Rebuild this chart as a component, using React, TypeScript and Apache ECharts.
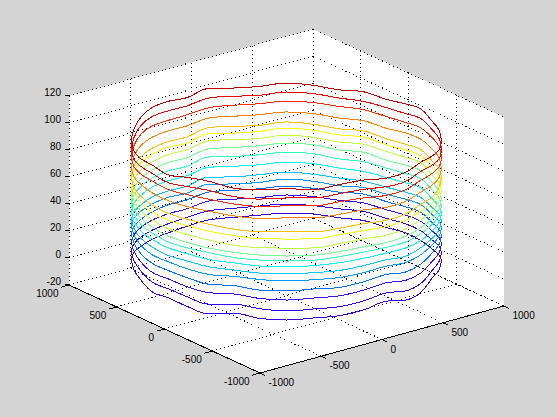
import React, { useEffect, useRef } from "react";
import * as echarts from "echarts";

const xTicks = [-1000, -500, 0, 500, 1000];
const yTicks = [-1000, -500, 0, 500, 1000];
const zTicks = [-20, 0, 20, 40, 60, 80, 100, 120];

// contour heights read on the far and on the near side of the cylinder
const backLevels = [0.1, 6.8, 13.5, 20.1, 25.3, 30.5, 37.9, 45.3, 52, 57.9, 63.1, 67.6, 75, 83.1, 89.8, 96.4];
const frontLevels = [2.8, 9.5, 17.6, 24.3, 31.7, 36.9, 42.1, 46.5, 50.2, 56.1, 62.8, 68, 78.4, 87.3, 93.2, 100];
const ringColors = ["#3c00d8", "#3c00f0", "#3010ff", "#0070ff", "#0098ff", "#00c8ff", "#00f8f8", "#30ffc0", "#70ff90", "#c0ff40", "#ffff00", "#ffc000", "#ff8000", "#ff2800", "#f00000", "#c00000"];

// z deviation of each contour from its level, every 10 degrees around the cylinder
const ring00 = [5, 2, 0, 0, 0, -1, 0, -1, 0, 0, -1, -1, 0, -1, -1, 0, 1, 3, 5, 4, 3, .5, 2, .5, -1, 2.5, .5, 0, 1, 1, 2.5, 5, 1, 1, 5.5, 5];
const ring01 = [4.5, 2, 0, .5, 0, -1, 0, -1, -.5, 0, -1, -1, 0, -1, -1, 0, 1, 2.5, 4.5, 4, 3, 1, 2, 1, -.5, 2.5, 1, 0, 1, 1, 2.5, 4.5, 1, 1, 4.5, 4.5];
const ring02 = [3.5, 1, -.5, .5, -.5, -1.5, -.5, -1.5, -.5, 0, -1.5, -1, .5, -1.5, -.5, .5, 1, 2, 3.5, 3.5, 2, .5, 1.5, .5, 0, 2, .5, 0, 1, 1, 2.5, 4, 1, 1, 3.5, 3.5];
const ring03 = [3, .5, -1, .5, -1, -2, -.5, -2, -1, 0, -1.5, -1, .5, -1.5, -.5, 0, .5, 1.5, 3, 3, 1.5, .5, 1, .5, -.5, 1.5, 0, 0, 1, .5, 2, 3.5, .5, 1, 3, 3];
const ring04 = [2.5, .5, -1, .5, -1, -2, -1, -2.5, -1, 0, -2, -1.5, 1, -2, -.5, 0, .5, 1.5, 2.5, 2.5, 1, 0, .5, 0, -.5, 1, .5, 0, .5, .5, 1.5, 2.5, .5, 1, 2.5, 2.5];
const ring05 = [2, .5, -1, .5, -1, -2, -1.5, -2, -1, 0, -1.5, -1.5, 1, -2, -1, 0, 0, 1, 2, 2, 1, .5, 0, .5, 0, .5, 0, 0, .5, .5, 1.5, 2, 0, 1, 2, 2];
const ring06 = [1.5, 0, -1, 1, -1, -2, -1.5, -2, -.5, 0, -1.5, -1, 1, -1.5, -.5, .5, .5, 1, 1.5, 1.5, .5, .5, 0, .5, 0, .5, 0, 0, .5, 1, 1.5, 1.5, .5, .5, 1.5, 1.5];
const ring07 = [1, 0, -1, 1, -1, -2, -1.5, -2.5, -.5, 0, -1.5, -1, 1.5, -1.5, 0, .5, .5, 1, 1, 1, 0, 0, -.5, 0, .5, 0, 0, 0, 0, 1, 1.5, 1, 0, .5, 1, 1];
const ring08 = [1, 0, -1, 1, -1, -2.5, -1, -2.5, -.5, 0, -1.5, -1, 1, -1.5, 0, .5, .5, 1, 1, .5, 0, 0, -.5, 0, 0, 0, 0, 0, 0, 1, 1.5, .5, 0, .5, .5, 1];
const ring09 = [1, 0, -1.5, 1, -1, -2, -1, -2.5, -1, 0, -2, -1, 1, -1.5, 0, .5, 1, 1, 1, 0, -.5, -.5, -1, 0, 0, -.5, -.5, 0, -.5, 1, 1.5, 0, -.5, .5, 0, 1];
const ring10 = [1.5, 0, -1.5, .5, -1, -2.5, -1, -2.5, -1, 0, -2, -1.5, 1, -2, 0, .5, 1, 1.5, 1.5, 0, -1, -1, -1, 0, 0, 0, -.5, 0, -.5, 1, 1, 0, -.5, .5, 0, 1.5];
const ring11 = [0, -.5, -1.5, .5, -1.5, -2.5, -1, -2.5, -1, 0, -2, -1, 1, -2, -.5, .5, .5, .5, 0, -1, -1, -1, -1, -.5, 0, -.5, -.5, 0, -.5, .5, 1, -.5, -1, .5, -.5, 0];
const ring12 = [-2, -1, -1, 0, -1, -2.5, -1, -2, -.5, 0, -1.5, -1, .5, -1.5, -.5, .5, .5, -1, -2, -2.5, -1.5, -1.5, -1.5, -1, -.5, -1, -1, 0, -.5, .5, 1, -1, -1.5, 0, -1, -2];
const ring13 = [-3, -1, -1, 0, -1.5, -2, -1, -1.5, -.5, 0, -1.5, -1, 0, -1.5, -1, .5, .5, -1.5, -3, -3.5, -2.5, -1.5, -2, -1, -.5, -1, -1, 0, -.5, 1, 1, -1, -1.5, 0, -1, -2.5];
const ring14 = [-3.5, -1.5, -1.5, .5, -1.5, -2, -1.5, -2, -.5, 0, -2, -1, .5, -1.5, -.5, 1, .5, -2, -3.5, -4.5, -3, -2, -3, -1, 0, -1.5, -1.5, 0, -.5, 1, 1.5, -.5, -1.5, .5, -1, -3];
const ring15 = [-4, -2, -2, 1, -1, -2.5, -1, -2.5, -1, 0, -2, -1.5, 1, -2, 0, 1, 0, -2.5, -4, -5, -4, -2.5, -4, -1, 0, -2, -1.5, 0, -1, 1, 1.5, -1, -1.5, .5, -1, -3];
const rings = [ring00, ring01, ring02, ring03, ring04, ring05, ring06, ring07, ring08, ring09, ring10, ring11, ring12, ring13, ring14, ring15];
const RADIUS = 1000;

// Oblique view of the 3D box onto the 2D value axes of the chart
const project = (x: number, y: number, z: number): [number, number] => [
  260 + (x + 1000) * 0.122 - (y + 1000) * 0.0955,
  373 - (x + 1000) * 0.0335 - (y + 1000) * 0.044 - (z + 20) * 1.35,
];

const seg = (a: number[], b: number[]) => [...project(a[0], a[1], a[2]), ...project(b[0], b[1], b[2])];

const dotted: number[][] = [];
const Z0 = -20;
const Z1 = 120;
zTicks.forEach((z) => {
  dotted.push(seg([-1000, 1000, z], [1000, 1000, z]));
  dotted.push(seg([1000, 1000, z], [1000, -1000, z]));
});
xTicks.forEach((x) => {
  dotted.push(seg([x, 1000, Z0], [x, 1000, Z1]));
  if (x > -1000) dotted.push(seg([x, -1000, Z0], [x, 1000, Z0]));
});
yTicks.forEach((y) => {
  if (y > -1000) dotted.push(seg([1000, y, Z0], [1000, y, Z1]));
  if (y > -1000) dotted.push(seg([-1000, y, Z0], [1000, y, Z0]));
});

const solid: number[][] = [seg([-1000, 1000, Z0], [-1000, -1000, Z0]), seg([-1000, -1000, Z0], [1000, -1000, Z0])];
zTicks.forEach((z) => {
  const p = project(-1000, 1000, z);
  solid.push([p[0], p[1], p[0] - 4.5, p[1] - 1.2]);
});
yTicks.forEach((y) => {
  const p = project(-1000, y, Z0);
  solid.push([p[0], p[1], p[0] - 8, p[1] + 2.2]);
});
xTicks.forEach((x) => {
  const p = project(x, -1000, Z0);
  solid.push([p[0], p[1], p[0] + 5, p[1] + 2.3]);
});

const wall = [project(-1000, 1000, Z0), project(-1000, 1000, Z1), project(1000, 1000, Z1), project(1000, -1000, Z1), project(1000, -1000, Z0), project(-1000, -1000, Z0)];

type Lab = { p: [number, number]; text: string; align: string };
const labels: Lab[] = [
  ...zTicks.map((z) => {
    const p = project(-1000, 1000, z);
    return { p: [p[0] - 8, p[1] - 3.5] as [number, number], text: String(z), align: "right" };
  }),
  ...yTicks.map((y) => {
    const p = project(-1000, y, Z0);
    return { p: [p[0] - 10.5, p[1] + 8.5] as [number, number], text: String(y), align: "right" };
  }),
  ...xTicks.map((x) => {
    const p = project(x, -1000, Z0);
    return { p: [p[0] + 8.5, p[1] + 9.5] as [number, number], text: String(x), align: "left" };
  }),
];

const lineRender = (color: string, dash?: number[]) => (_: any, api: any) => {
  const a = api.coord([api.value(0), api.value(1)]);
  const b = api.coord([api.value(2), api.value(3)]);
  return {
    type: "line",
    shape: { x1: a[0], y1: a[1], x2: b[0], y2: b[1] },
    style: { stroke: color, lineWidth: 1, lineDash: dash, fill: null },
    silent: true,
  };
};

export default function App() {
  const ref = useRef<HTMLDivElement>(null);
  useEffect(() => {
    document.body.style.margin = "0";
    document.body.style.background = "#d4d4d4";
    const el = ref.current!;
    const chart = echarts.init(el, undefined, { renderer: "svg" });
    const ringSeries = rings.map((dev, i) => {
      const pts = dev.map((d, k) => {
        const u = (k * 10 * Math.PI) / 180;
        const t = ((k * 10 - 38) * Math.PI) / 180;
        const level = (backLevels[i] + frontLevels[i]) / 2 + ((backLevels[i] - frontLevels[i]) / 2) * Math.sin(u);
        return project(RADIUS * Math.cos(t), RADIUS * Math.sin(t), level + d);
      });
      pts.push(pts[0]);
      return {
        type: "line",
        data: pts,
        symbol: "none",
        smooth: 0.4,
        silent: true,
        z: 5,
        clip: false,
        lineStyle: { color: ringColors[i], width: 1 },
      };
    });
    chart.setOption({
      animation: false,
      backgroundColor: "#d4d4d4",
      tooltip: { show: false },
      grid: { left: 0, right: 0, top: 0, bottom: 0 },
      xAxis: { type: "value", min: 0, max: 557, show: false },
      yAxis: { type: "value", min: 0, max: 417, inverse: true, show: false },
      series: [
        {
          type: "custom",
          coordinateSystem: "cartesian2d",
          z: 1,
          silent: true,
          clip: false,
          data: [[0]],
          renderItem: (_: any, api: any) => ({
            type: "polygon",
            shape: { points: wall.map((p) => api.coord(p)) },
            style: { fill: "#ffffff", stroke: null },
            silent: true,
          }),
        },
        { type: "custom", z: 2, silent: true, clip: false, data: dotted, renderItem: lineRender("#000000", [1, 3]) },
        ...ringSeries,
        { type: "custom", z: 6, silent: true, clip: false, data: solid, renderItem: lineRender("#000000") },
        {
          type: "custom",
          z: 7,
          silent: true,
          clip: false,
          data: labels.map((l) => l.p),
          renderItem: (params: any, api: any) => {
            const l = labels[params.dataIndex];
            const c = api.coord(l.p);
            return {
              type: "text",
              x: c[0],
              y: c[1],
              silent: true,
              style: { text: l.text, fill: "#000000", font: '10px "Liberation Sans", Arial, sans-serif', align: l.align, verticalAlign: "middle" },
            };
          },
        },
      ],
    });
    const svg = el.querySelector("svg");
    if (svg) (svg as any).style.shapeRendering = "crispEdges";
    return () => chart.dispose();
  }, []);
  return <div ref={ref} style={{ position: "absolute", left: 0, top: 0, width: 557, height: 417 }} />;
}
